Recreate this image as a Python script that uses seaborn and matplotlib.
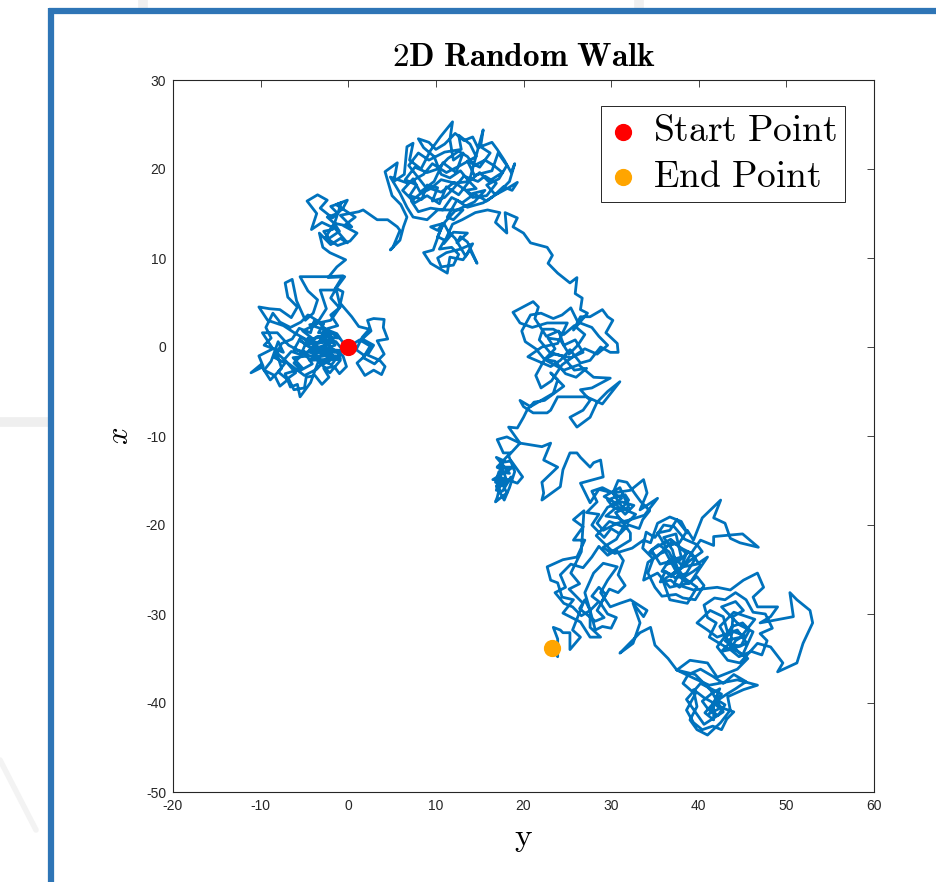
import numpy as np
import pandas as pd
import matplotlib
matplotlib.use("Agg")
import matplotlib.pyplot as plt
import seaborn as sns
from matplotlib.lines import Line2D

# Walk coordinates, one list per stretch of the path. Each point is (y, x):
# y runs along the horizontal axis, x along the vertical axis.
start_point = (0.0, 0.0)
end_point = (23.2, -33.8)

leg_origin = [
    (1.3, 0.8), (2.5, 0.1), (1.7, -1.2), (3.0, -1.9), (4.1, -0.8), (3.3, 0.7),
    (4.5, 0.9), (4.0, 2.2), (4.1, 3.1), (2.9, 3.2), (2.2, 3.0), (2.6, 1.8),
    (1.6, 0.9), (2.9, 0.2), (2.2, -0.9), (3.6, -1.5), (4.2, -2.2), (3.8, -3.1),
    (2.9, -2.6), (1.9, -3.2), (1.0, -1.8), (1.9, -1.0), (0.9, -0.3), (1.6, 1.1),
    (2.4, 2.0), (1.2, 2.3), (0.4, 3.4), (-0.9, 4.9), (-0.6, 6.2), (-1.4, 6.6),
    (-0.9, 4.5), (-2.0, 3.6), (-1.2, 2.4), (-2.6, 2.0),
]

core_west = [
    (-3.2, 1.0), (-2.1, 0.4), (-3.6, -0.3), (-2.4, -0.9), (-4.0, -1.2), (-2.8, -1.9),
    (-1.5, -1.2), (-2.6, -0.2), (-1.2, -0.6), (-5.0, -0.6), (-4.8, -1.0), (-1.0, -1.0),
    (-0.9, -1.3), (-4.4, -1.5), (-2.0, 0.9), (-3.4, 0.4), (-4.6, 1.0), (-5.2, -0.4),
    (-4.1, -1.9), (-5.4, -2.6), (-6.2, -1.8), (-5.3, -0.9), (-6.5, -0.5), (-7.3, -1.4),
    (-6.0, -2.9), (-7.0, -3.6), (-8.0, -2.8), (-7.2, -1.8), (-8.4, -1.2), (-7.6, 0.4),
    (-6.4, 0.9), (-5.6, 2.1), (-4.3, 1.6), (-3.9, 2.9), (-2.8, 2.6), (-3.4, 1.6),
    (-2.2, 1.6), (-1.6, 0.6), (-3.0, 0.1), (-4.4, -0.4), (-3.3, -1.4), (-1.9, -2.0),
    (-1.1, -0.9), (-0.4, 0.2), (-1.3, 1.5), (-2.6, 2.0),
]

loop_west = [
    (-3.6, 3.0), (-4.6, 3.6), (-5.4, 2.8), (-6.6, 2.2), (-7.8, 2.8), (-8.6, 3.8),
    (-9.4, 2.2), (-8.8, 1.0), (-9.6, 0.2), (-7.4, -0.6), (-8.0, 0.6), (-8.8, -1.6),
    (-9.6, -2.6), (-8.4, -3.2), (-7.8, -4.4), (-6.8, -3.6), (-6.2, -4.8), (-5.0, -4.6),
    (-4.8, -3.4), (-3.8, -3.2), (-3.0, -4.2), (-2.2, -3.4), (-2.8, -2.4), (-1.6, -2.2),
    (-1.0, -3.0), (-0.2, -2.2), (-0.6, -1.0), (-1.8, -0.2), (-2.6, 0.8), (-2.6, 2.0),
]

leg_west = [
    (-1.0, 1.0), (-3.5, 1.2), (-4.8, 0.4), (-1.4, 0.6), (-0.6, -0.4), (-4.2, -0.2),
    (-5.6, 0.8), (-3.0, -0.8), (-0.9, -1.5), (-2.1, -2.9), (-3.4, -1.6), (-4.3, -4.0),
    (-5.5, -5.6), (-5.8, -4.2), (-6.6, -4.5), (-7.2, -3.0), (-5.2, -2.4), (-6.3, -1.2),
    (-4.5, -1.0), (-6.8, 0.2), (-8.1, 1.6), (-9.8, 1.6), (-8.6, -0.2), (-10.2, -1.0),
    (-9.7, -2.2), (-11.1, -2.9), (-10.0, -2.0), (-8.9, -3.7), (-7.6, -2.4), (-8.2, -0.6),
    (-6.9, -1.8), (-5.0, -3.2), (-3.6, -2.5), (-2.2, -1.0), (-3.8, 0.3), (-6.0, 1.5),
    (-7.4, 2.4), (-9.2, 3.0), (-10.2, 4.5), (-9.0, 4.3), (-7.8, 4.2), (-6.5, 3.3),
    (-5.8, 4.5), (-6.9, 5.6), (-7.2, 7.2), (-6.4, 7.6), (-5.9, 5.2), (-4.9, 3.0),
    (-4.0, 3.8), (-3.5, 5.3), (-4.6, 6.3), (-5.5, 7.9), (-2.4, 7.9), (-0.6, 8.0),
    (-1.6, 6.4), (-3.2, 6.4), (-2.5, 4.3), (-3.6, 2.6), (-5.2, 1.8), (-4.0, 0.9),
    (-2.6, 1.3), (-4.7, -0.6), (-6.2, -0.3), (-5.4, 1.1), (-3.1, -0.3), (-1.5, 0.2),
    (-2.9, 2.0), (-4.4, 2.5), (-2.0, 3.0), (-1.0, 4.4), (-2.0, 5.5), (-1.3, 6.7),
    (-0.4, 7.9), (-2.3, 7.8), (-1.3, 9.0), (-0.3, 9.8), (-2.1, 10.6),
]

leg_northwest_a = [
    (-2.9, 11.2), (-3.3, 12.8), (-2.0, 11.5), (-0.9, 12.2), (-0.1, 11.7), (-1.5, 13.3),
    (-3.0, 14.0), (-4.2, 13.2), (-3.6, 15.0), (-4.7, 16.4), (-3.5, 17.1), (-2.4, 16.5),
    (-3.2, 15.6), (-1.8, 14.5), (-0.6, 15.6), (-0.1, 16.5), (-1.4, 16.0), (0.8, 14.6),
    (-0.5, 13.6), (1.0, 12.8), (0.2, 11.9), (-1.2, 11.4), (-2.6, 12.3), (-1.6, 13.9),
]

core_northwest = [
    (-2.4, 14.6), (-1.2, 15.0), (-2.0, 15.8), (-0.8, 16.2), (-1.8, 13.2), (-2.8, 13.0),
    (-2.2, 12.2), (-1.0, 13.0), (-1.6, 13.9),
]

leg_northwest_b = [
    (0.4, 13.5), (-0.9, 14.8), (1.2, 15.2), (1.7, 15.4), (3.3, 14.3), (4.5, 14.3),
    (5.6, 13.5), (5.9, 13.1), (5.1, 11.2), (4.8, 10.9), (5.9, 12.0), (6.3, 13.5),
    (6.7, 14.6), (6.0, 16.0), (5.0, 17.0),
]

leg_north_a = [
    (4.2, 19.7), (5.6, 20.7), (5.2, 18.6), (6.4, 19.4), (6.7, 22.5), (7.4, 22.9),
    (7.0, 21.0), (8.3, 20.0), (9.4, 22.1), (10.5, 23.6), (11.9, 25.3), (11.6, 23.3),
    (12.0, 21.0), (13.1, 21.8), (12.3, 19.6), (10.8, 20.7), (9.8, 18.6), (8.2, 17.4),
    (7.4, 18.9), (6.2, 17.6), (7.6, 16.2), (9.0, 17.0), (10.4, 16.1), (11.2, 18.0),
    (12.6, 17.1), (13.8, 18.6),
]

core_north = [
    (14.6, 17.8), (13.4, 17.6), (14.2, 16.8), (15.8, 17.0), (16.9, 18.4), (15.6, 19.2),
    (14.8, 18.6), (13.2, 19.2), (12.0, 17.8), (11.0, 16.8), (9.6, 16.4), (10.2, 17.9),
    (9.0, 18.2), (8.4, 16.6), (7.0, 17.0), (7.8, 18.2), (6.5, 18.8), (7.6, 20.2),
    (9.0, 19.6), (10.2, 20.0), (11.4, 21.2), (12.6, 22.0), (13.6, 21.4), (14.4, 20.4),
    (15.6, 21.0), (16.6, 20.4), (17.6, 19.6), (16.0, 18.6), (15.0, 19.6), (13.8, 18.6),
]

loop_north = [
    (12.8, 19.8), (11.6, 19.0), (10.6, 19.4), (9.8, 21.4), (8.6, 22.4), (8.0, 23.4),
    (9.2, 23.0), (10.0, 22.2), (11.0, 22.8), (12.2, 24.0), (13.2, 23.2), (14.2, 23.6),
    (14.8, 22.4), (16.4, 23.0), (17.0, 22.2), (17.8, 21.0), (18.6, 19.6), (19.0, 20.6),
    (18.4, 18.6), (17.2, 17.4), (15.8, 16.4), (14.4, 17.2), (13.0, 16.2), (11.8, 16.8),
    (10.8, 15.4), (9.4, 15.6), (8.0, 15.2), (7.2, 16.4), (8.2, 17.2), (9.4, 17.8),
    (10.6, 18.8), (12.2, 18.4), (13.8, 18.6),
]

leg_north_b = [
    (15.4, 24.4), (15.1, 22.5), (16.2, 21.8), (15.0, 20.2), (13.6, 20.9), (14.4, 19.3),
    (16.4, 19.8), (17.1, 21.8), (18.1, 20.4), (17.2, 18.9), (15.8, 18.2), (16.8, 17.1),
    (18.3, 17.9), (19.3, 18.5), (18.7, 17.6), (17.7, 18.0), (16.5, 16.9), (15.4, 16.2),
    (13.6, 15.7), (12.4, 16.5), (11.3, 14.6), (12.0, 14.3), (13.1, 15.4), (10.2, 15.4),
    (9.0, 14.3), (7.4, 14.6), (6.7, 15.7), (5.9, 17.3), (4.8, 19.1), (6.8, 18.4),
    (8.6, 19.4), (9.6, 20.6), (11.2, 19.6), (12.8, 20.4), (14.6, 21.4), (13.9, 22.8),
    (12.6, 23.8), (12.9, 22.2), (11.0, 21.9), (9.2, 21.0), (8.0, 21.8), (6.9, 20.4),
    (8.8, 18.0), (10.6, 17.4), (12.1, 18.5), (14.0, 17.2), (15.6, 17.6), (14.4, 16.3),
    (12.2, 15.3), (10.9, 13.9),
]

loop_north_low = [
    (10.2, 12.4), (11.0, 12.0), (10.4, 11.0), (11.8, 11.2), (12.6, 10.4), (12.0, 9.2),
    (10.6, 9.0), (10.2, 10.0), (11.2, 10.6), (12.8, 11.0), (14.2, 11.6), (13.4, 10.2),
    (12.2, 12.2), (11.4, 13.0), (10.9, 13.9),
]

leg_north_c = [
    (9.4, 13.5), (10.2, 13.1), (10.8, 13.9), (9.7, 10.9), (8.6, 10.6), (9.4, 9.4),
    (11.3, 8.3), (11.6, 10.1), (13.1, 9.8), (13.9, 10.9), (14.7, 9.4), (13.6, 11.8),
    (12.8, 12.4), (12.4, 11.7), (13.6, 12.8), (12.0, 12.9), (10.9, 11.6), (11.9, 13.8),
    (13.0, 14.3), (14.5, 15.1), (15.9, 15.4), (17.3, 15.1), (16.8, 14.0), (18.1, 12.8),
    (17.9, 15.1), (19.3, 14.5), (18.8, 13.5), (20.0, 12.8), (20.8, 11.7),
]

leg_descent = [
    (22.7, 11.2), (23.3, 10.3), (22.8, 9.4), (23.9, 8.3), (25.3, 7.2), (26.1, 7.8),
    (25.9, 6.0), (26.7, 5.5), (26.5, 4.2), (27.3, 3.8),
]

leg_centre_a = [
    (25.7, 1.9), (26.5, 3.4), (27.6, 3.4), (29.0, 4.2), (29.6, 3.4), (30.2, 3.0),
    (29.4, 1.6), (30.7, 0.4), (30.8, -0.6), (29.9, -0.6), (28.8, 0.0), (27.6, -1.5),
    (26.5, -1.8), (25.3, -0.3), (24.2, -1.5), (23.1, -2.2), (20.5, -1.1), (22.1, 0.0),
    (23.9, 0.4), (25.0, 2.7), (22.7, 2.7), (21.0, 2.2), (19.6, 2.7), (18.8, 3.9),
    (21.1, 5.1), (21.7, 4.5), (21.3, 3.2), (22.6, 1.2), (24.0, 1.8), (24.6, 0.2),
    (25.9, 0.8), (26.8, -0.6), (25.4, -1.2), (23.5, -0.8), (22.4, -1.4),
]

core_centre = [
    (23.6, -0.2), (22.8, 1.0), (24.2, 0.8), (25.2, -0.8), (26.2, 0.2), (27.0, 1.4),
    (25.8, 2.4), (24.6, 1.4), (23.4, 2.0), (22.2, 2.0), (21.8, 0.8), (23.0, -0.6),
    (24.4, -1.0), (25.8, -2.6), (27.2, -2.4), (26.0, -3.4), (24.8, -3.0), (23.6, -1.6),
    (22.4, -1.4),
]

loop_centre = [
    (21.4, -0.2), (20.2, 0.6), (19.8, 1.8), (20.8, 3.6), (22.0, 3.8), (23.4, 3.2),
    (24.4, 3.6), (25.4, 4.4), (26.2, 2.8), (27.8, 2.2), (28.6, 1.2), (29.6, 0.2),
    (28.4, -0.8), (27.0, -0.2), (25.8, -1.0), (24.4, -2.0), (23.2, -3.8), (22.0, -4.6),
    (21.4, -3.2), (22.4, -1.4),
]

leg_centre_b = [
    (24.6, -2.6), (26.3, -2.0), (28.0, -3.4), (29.9, -3.5), (27.8, -4.6), (26.5, -4.8),
    (27.6, -6.0), (26.8, -7.1), (25.3, -7.9), (26.1, -9.0), (27.6, -7.9), (28.4, -6.2),
    (29.6, -5.0), (31.0, -3.9), (29.0, -6.4), (27.2, -5.6), (25.0, -5.6), (23.9, -5.6),
    (23.1, -7.1), (22.7, -7.4), (21.1, -7.4), (20.0, -6.7), (19.6, -6.0), (20.8, -6.7),
    (23.4, -5.2), (23.9, -3.7), (23.1, -2.9), (24.6, -4.4), (22.4, -6.0), (21.2, -6.2),
    (20.4, -7.1), (20.0, -7.9), (19.3, -9.1), (18.3, -9.0), (19.1, -10.1), (19.6, -10.8),
]

leg_pocket_a = [
    (18.1, -10.1), (17.0, -10.4), (17.7, -11.9), (18.5, -11.9), (17.0, -13.5),
]

core_pocket = [
    (17.8, -12.8), (16.9, -12.4), (17.6, -13.2), (18.4, -14.2), (17.2, -14.0),
    (16.8, -15.2), (17.8, -15.6), (18.6, -14.6), (17.6, -16.2), (16.9, -16.1),
    (17.5, -13.8), (17.0, -13.5),
]

leg_pocket_b = [
    (18.8, -13.5), (17.7, -14.2), (16.5, -14.9), (18.2, -15.0), (17.3, -15.7),
    (17.0, -16.9), (16.8, -17.4), (18.1, -16.4), (17.2, -14.6), (19.3, -15.3),
    (19.9, -14.6), (18.6, -12.8), (17.4, -13.0), (18.0, -14.8), (16.9, -15.6),
    (17.8, -17.2), (18.4, -15.8), (19.0, -14.0), (18.3, -12.2), (19.6, -10.8),
]

leg_southeast_a = [
    (22.1, -11.2), (23.1, -10.8), (22.3, -12.7), (23.9, -13.5), (22.1, -15.2),
    (22.3, -16.4), (22.1, -17.2), (24.2, -15.7), (24.5, -13.8), (25.3, -11.9),
    (26.1, -11.9), (26.5, -12.4), (27.6, -13.5), (28.0, -13.0), (28.8, -12.7),
    (29.1, -14.6), (26.5, -15.3), (27.6, -17.5), (28.6, -16.0), (30.2, -16.4),
]

core_southeast = [
    (31.2, -17.0), (30.0, -17.8), (31.0, -18.4), (32.0, -17.2), (31.6, -16.6),
    (30.6, -16.8), (29.6, -17.2), (30.4, -18.2), (29.4, -19.0), (30.8, -19.2),
    (31.8, -19.8), (32.8, -18.8), (31.4, -18.2), (30.2, -16.4),
]

loop_southeast = [
    (29.0, -15.8), (27.8, -16.2), (28.4, -17.4), (27.2, -18.6), (28.6, -18.8),
    (27.8, -20.0), (29.2, -21.4), (30.0, -20.4), (31.0, -21.0), (32.0, -20.0),
    (33.2, -20.4), (33.6, -19.4), (34.4, -18.4), (33.4, -17.4), (32.8, -16.6),
    (31.8, -15.2), (30.8, -15.0), (30.2, -16.4),
]

leg_southeast_b = [
    (32.2, -16.1), (33.7, -14.9), (34.1, -16.4), (33.3, -18.3), (35.3, -17.0),
    (33.8, -18.9), (32.2, -19.4), (30.7, -19.8), (29.1, -20.6), (28.4, -19.8),
    (29.6, -18.0), (31.2, -17.4), (32.6, -17.8), (31.6, -18.8), (30.3, -17.4),
    (29.2, -16.8), (31.0, -15.8), (32.0, -18.0), (30.5, -18.6), (32.2, -20.9),
    (32.2, -21.7), (29.9, -23.1), (29.1, -22.5), (30.6, -21.6), (31.4, -20.2),
    (29.8, -19.6), (28.3, -21.2), (30.4, -23.2), (32.4, -22.6), (33.7, -21.7),
]

leg_east_a = [
    (34.5, -22.0), (35.3, -19.8), (36.7, -19.1), (38.0, -19.6), (38.7, -20.9),
    (37.5, -19.4), (36.7, -20.6), (35.3, -20.9), (36.2, -22.4), (37.8, -22.0),
    (38.7, -20.6), (39.4, -21.7), (40.4, -19.2), (42.5, -17.2), (41.7, -19.2),
    (43.0, -19.8), (43.6, -21.5), (44.7, -22.0), (46.8, -22.5), (45.0, -21.0),
    (41.7, -21.3), (41.7, -22.3), (40.2, -21.7), (39.4, -22.8), (38.2, -24.7),
]

core_east = [
    (37.2, -23.6), (36.4, -24.4), (37.8, -24.0), (38.8, -23.0), (39.6, -23.8),
    (38.6, -25.4), (37.4, -26.0), (36.2, -25.2), (35.6, -26.4), (36.8, -26.2),
    (37.8, -27.0), (38.4, -25.8), (39.4, -25.2), (40.2, -24.6), (39.2, -23.2),
    (38.0, -22.6), (37.0, -21.8), (36.0, -22.8), (35.2, -23.6), (34.4, -23.0),
    (35.4, -22.2), (36.6, -23.0), (37.6, -25.0), (36.8, -25.8), (38.2, -24.7),
]

loop_east = [
    (39.0, -24.0), (40.4, -23.0), (39.8, -22.2), (38.4, -21.6), (37.2, -20.2),
    (36.0, -20.0), (35.0, -21.4), (34.0, -20.8), (33.6, -22.6), (34.8, -23.8),
    (34.2, -25.4), (35.0, -27.0), (35.8, -28.0), (37.4, -27.8), (38.2, -28.2),
    (39.6, -28.4), (40.6, -26.8), (39.8, -25.8), (38.8, -26.6), (37.8, -25.8),
    (37.0, -22.8), (36.0, -21.4), (37.4, -21.0), (38.0, -23.6), (36.6, -24.0),
    (35.8, -25.2), (37.0, -25.6), (38.2, -24.7),
]

leg_east_b = [
    (39.8, -24.4), (41.0, -23.6), (39.0, -26.5), (36.7, -27.0), (35.3, -25.4),
    (33.7, -26.2), (34.2, -24.2), (35.6, -23.2), (36.2, -23.0), (37.4, -25.2),
    (35.9, -26.2), (36.7, -28.4), (38.7, -28.8), (39.8, -27.0), (38.4, -26.0),
    (37.0, -24.0), (35.6, -24.4), (34.6, -22.8), (36.8, -21.6), (38.6, -23.2),
    (37.2, -26.6), (39.4, -27.3),
]

leg_far_east_a = [
    (42.1, -27.0), (43.6, -27.3), (45.1, -26.2), (46.7, -25.4), (47.4, -27.0),
    (46.2, -28.1), (46.7, -29.2), (49.0, -29.2), (48.2, -30.3), (47.0, -31.0),
    (50.8, -30.3), (50.4, -27.6), (51.2, -28.4), (52.7, -29.6), (53.0, -31.0),
    (51.9, -33.3), (51.2, -35.5), (49.0, -36.5), (49.6, -35.5), (48.2, -33.7),
    (46.7, -33.3), (44.7, -35.5), (43.3, -35.2), (42.1, -33.7), (43.3, -32.1),
    (42.8, -30.3), (41.3, -29.6), (39.8, -31.0), (41.0, -31.8), (42.1, -32.6),
    (44.4, -31.8), (45.5, -33.3), (43.6, -34.0),
]

core_far_east = [
    (44.2, -33.0), (45.2, -32.4), (44.0, -32.0), (43.0, -32.6), (43.8, -31.4),
    (45.0, -31.0), (45.8, -31.8), (44.8, -33.6), (43.4, -33.4), (42.6, -34.2),
    (43.6, -34.0),
]

loop_far_east = [
    (44.6, -34.8), (46.0, -34.2), (47.2, -34.6), (47.8, -33.0), (47.0, -32.2),
    (48.4, -31.6), (47.6, -30.0), (46.2, -29.8), (45.4, -28.4), (44.2, -27.6),
    (43.0, -28.4), (41.8, -28.2), (40.6, -29.0), (41.0, -30.4), (42.0, -31.0),
    (41.2, -32.6), (42.2, -33.2), (43.6, -34.0),
]

leg_far_east_b = [
    (43.9, -30.3), (45.1, -29.6), (44.2, -28.6), (42.6, -29.2), (44.6, -31.2),
    (46.2, -32.0), (45.0, -34.6), (43.0, -33.0), (44.8, -32.6), (46.4, -30.6),
    (44.0, -29.8), (42.4, -31.4), (43.8, -33.8), (45.6, -35.0), (44.4, -36.2),
]

leg_south_a = [
    (42.1, -37.1), (41.0, -35.5), (39.0, -35.2), (37.5, -36.3), (39.4, -37.2),
    (41.2, -38.0), (44.4, -37.4), (46.7, -38.0), (45.1, -38.5), (43.3, -39.3),
    (43.6, -40.8), (42.5, -42.2), (41.0, -43.6), (39.8, -43.0), (39.0, -41.9),
    (39.8, -40.4), (39.4, -38.5), (40.6, -39.4), (41.7, -40.0),
]

core_south = [
    (42.4, -40.6), (41.2, -41.2), (42.0, -39.6), (43.0, -40.2), (42.2, -41.4),
    (41.0, -40.6), (40.4, -39.8), (41.4, -39.0), (42.4, -38.4), (41.7, -40.0),
]

loop_south = [
    (43.2, -39.0), (44.2, -38.4), (45.4, -37.6), (44.0, -36.8), (42.8, -37.8),
    (41.6, -37.0), (40.2, -36.2), (38.8, -36.8), (38.2, -37.8), (39.6, -39.0),
    (38.6, -40.8), (39.4, -42.2), (40.4, -43.0), (41.6, -42.6), (42.6, -43.0),
    (43.2, -41.8), (44.0, -41.0), (42.8, -40.6), (41.7, -40.0),
]

leg_south_b = [
    (41.7, -41.9), (40.7, -41.1), (42.6, -39.0), (40.2, -37.8), (38.6, -39.6),
    (40.6, -42.4), (42.8, -41.0), (41.4, -38.6), (39.6, -36.8), (37.5, -36.3),
]

leg_return_a = [
    (36.5, -35.0), (35.0, -33.5), (34.5, -31.5), (33.3, -32.1), (32.5, -32.9),
    (31.0, -34.4), (32.5, -33.3), (33.3, -31.0), (32.5, -28.8), (33.7, -30.3),
    (34.1, -29.6), (32.2, -28.4), (31.0, -28.8), (29.9, -29.2), (28.8, -27.6),
    (29.6, -26.2), (30.7, -24.7), (29.1, -24.3), (28.0, -25.4), (27.0, -27.6),
    (27.6, -29.6),
]

core_final = [
    (28.6, -28.6), (27.8, -28.0), (28.6, -27.0), (29.4, -27.8), (28.4, -29.6),
    (29.2, -30.4), (28.2, -30.8), (27.4, -30.2), (26.4, -29.4), (27.0, -28.4),
    (27.6, -29.6),
]

loop_final = [
    (26.6, -30.2), (25.6, -29.2), (24.6, -28.8), (23.6, -27.6), (24.8, -27.0),
    (24.2, -25.6), (25.4, -24.4), (26.8, -24.8), (27.8, -23.6), (28.6, -22.4),
    (29.6, -23.4), (30.6, -22.8), (31.4, -24.0), (30.8, -25.6), (31.6, -26.8),
    (30.8, -27.6), (29.8, -27.2), (28.8, -28.8), (29.6, -30.0), (30.6, -30.4),
    (30.0, -31.6), (29.0, -31.4), (28.2, -31.8), (27.6, -29.6),
]

leg_return_b = [
    (27.6, -31.5), (28.8, -32.6), (27.6, -32.6), (26.5, -30.9), (25.3, -30.3),
    (24.5, -29.9), (25.7, -28.4), (24.4, -28.1), (23.9, -26.5), (23.1, -26.2),
    (22.7, -24.7), (24.5, -23.9), (26.1, -23.6), (27.0, -21.7), (25.7, -21.7),
    (26.8, -20.2), (25.7, -19.4), (26.9, -18.4), (26.6, -23.0), (25.4, -25.4),
    (26.4, -26.6), (25.2, -27.2), (26.8, -28.8), (25.6, -31.8), (26.5, -32.6),
    (25.3, -34.0), (25.3, -32.1), (24.5, -32.1), (24.2, -31.8), (23.4, -31.5),
    (23.9, -32.8), (23.9, -34.8),
]

legs = [
    [start_point], leg_origin, core_west, loop_west, leg_west,
    leg_northwest_a, core_northwest, leg_northwest_b,
    leg_north_a, core_north, loop_north, leg_north_b, loop_north_low, leg_north_c,
    leg_descent,
    leg_centre_a, core_centre, loop_centre, leg_centre_b,
    leg_pocket_a, core_pocket, leg_pocket_b,
    leg_southeast_a, core_southeast, loop_southeast, leg_southeast_b,
    leg_east_a, core_east, loop_east, leg_east_b,
    leg_far_east_a, core_far_east, loop_far_east, leg_far_east_b,
    leg_south_a, core_south, loop_south, leg_south_b,
    leg_return_a, core_final, loop_final, leg_return_b, [end_point],
]

walk = pd.DataFrame(np.vstack([np.array(leg, dtype=float) for leg in legs]),
                    columns=["y", "x"])
walk["step"] = np.arange(len(walk))

x_ticks = [-20, -10, 0, 10, 20, 30, 40, 50, 60]
y_ticks = [-50, -40, -30, -20, -10, 0, 10, 20, 30]

sns.set_theme(style="white")
plt.rcParams["font.family"] = ["Liberation Sans", "DejaVu Sans"]
plt.rcParams["mathtext.fontset"] = "cm"

fig = plt.figure(figsize=(9.36, 8.82), dpi=100)
fig.patch.set_facecolor("white")

# faint background strokes and the blue page frame
fig.add_artist(Line2D([0, 48 / 936], [1 - 422 / 882, 1 - 422 / 882],
                      transform=fig.transFigure, color="#efefef", lw=7))
fig.add_artist(Line2D([0, 36 / 936], [1 - 760 / 882, 1 - 830 / 882],
                      transform=fig.transFigure, color="#f3f3f3", lw=4))
fig.add_artist(Line2D([143 / 936, 143 / 936], [1.0, 1 - 8 / 882],
                      transform=fig.transFigure, color="#f0f0f0", lw=7))
fig.add_artist(Line2D([639 / 936, 639 / 936], [1.0, 1 - 8 / 882],
                      transform=fig.transFigure, color="#f0f0f0", lw=7))
fig.add_artist(Line2D([51 / 936, 51 / 936], [1 - 8 / 882, 0.0],
                      transform=fig.transFigure, color="#2e75b6", lw=4.5,
                      solid_capstyle="butt"))
fig.add_artist(Line2D([48.5 / 936, 1.0], [1 - 11 / 882, 1 - 11 / 882],
                      transform=fig.transFigure, color="#2e75b6", lw=4.5,
                      solid_capstyle="butt"))

ax = fig.add_axes([173 / 936, 1 - 792 / 882, 701 / 936, 712 / 882])

sns.lineplot(data=walk, x="y", y="x", sort=False, estimator=None,
             color="#0072BD", lw=2.0, ax=ax, legend=False)
ax.scatter([start_point[0]], [start_point[1]], s=130, color="#FF0000",
           edgecolor="#FF0000", zorder=5, label=r"$\mathrm{Start\ Point}$")
ax.scatter([end_point[0]], [end_point[1]], s=130, color="#FFA500",
           edgecolor="#FFA500", zorder=5, label=r"$\mathrm{End\ Point}$")

ax.set_xlim(-20, 60)
ax.set_ylim(-50, 30)
ax.set_xticks(x_ticks)
ax.set_yticks(y_ticks)
ax.set_xticklabels([str(t) for t in x_ticks])
ax.set_yticklabels([str(t) for t in y_ticks])
ax.tick_params(direction="in", length=5, width=0.6, colors="#262626",
               labelsize=10, top=True, right=True, pad=5)
for side in ax.spines.values():
    side.set_visible(True)
    side.set_color("#262626")
    side.set_linewidth(0.8)

ax.set_title(r"$\mathbf{2D\ Random\ Walk}$", fontsize=24, pad=10, color="black")
ax.set_xlabel(r"$\mathrm{y}$", fontsize=24, labelpad=7, color="black")
ax.set_ylabel(r"$x$", fontsize=22, labelpad=8, color="black")

leg = ax.legend(loc="upper right", bbox_to_anchor=(0.9586, 0.9635),
                borderaxespad=0, fontsize=27, frameon=True, fancybox=False,
                framealpha=1, edgecolor="#262626", handletextpad=0.4,
                borderpad=0.2, labelspacing=0.25, handlelength=0.8,
                scatterpoints=1, labelcolor="black")
leg.get_frame().set_linewidth(0.7)

fig.savefig("out.png", dpi=100, facecolor="white")
